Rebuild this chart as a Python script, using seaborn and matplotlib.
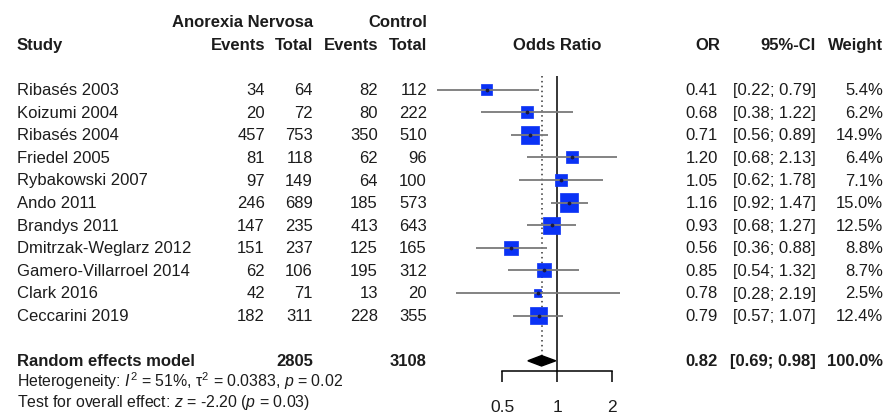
import matplotlib
matplotlib.use("Agg")
import matplotlib.pyplot as plt
import matplotlib.transforms as mtransforms
from matplotlib.ticker import NullLocator
import seaborn as sns

# data
studies = ["Ribasés 2003", "Koizumi 2004", "Ribasés 2004", "Friedel 2005",
           "Rybakowski 2007", "Ando 2011", "Brandys 2011", "Dmitrzak-Weglarz 2012",
           "Gamero-Villarroel 2014", "Clark 2016", "Ceccarini 2019"]
an_events = [34, 20, 457, 81, 97, 246, 147, 151, 62, 42, 182]
an_total = [64, 72, 753, 118, 149, 689, 235, 237, 106, 71, 311]
ctrl_events = [82, 80, 350, 62, 64, 185, 413, 125, 195, 13, 228]
ctrl_total = [112, 222, 510, 96, 100, 573, 643, 165, 312, 20, 355]
odds_ratio = [0.41, 0.68, 0.71, 1.20, 1.05, 1.16, 0.93, 0.56, 0.85, 0.78, 0.79]
ci_low = [0.22, 0.38, 0.56, 0.68, 0.62, 0.92, 0.68, 0.36, 0.54, 0.28, 0.57]
ci_high = [0.79, 1.22, 0.89, 2.13, 1.78, 1.47, 1.27, 0.88, 1.32, 2.19, 1.07]
weights = [5.4, 6.2, 14.9, 6.4, 7.1, 15.0, 12.5, 8.8, 8.7, 2.5, 12.4]
pooled_or, pooled_low, pooled_high = 0.82, 0.69, 0.98
pooled_an_total, pooled_ctrl_total = 2805, 3108
pooled_weight = 100.0
x_ticks = [0.5, 1, 2]

sns.set_style("white")
plt.rcParams["font.family"] = ["Liberation Sans", "DejaVu Sans"]
plt.rcParams["mathtext.fontset"] = "custom"
plt.rcParams["mathtext.rm"] = "Liberation Sans"
plt.rcParams["mathtext.it"] = "Liberation Sans:italic"

W, H = 887, 414
TXT = "#1c1c1c"
BLUE = "#0a32f5"

fig = plt.figure(figsize=(W / 100, H / 100), dpi=100)

# plot panel (pixels: x 420-640, y 77-372), log scale, 55px per doubling, 1 at 557
px_one, px_per_doubling = 557.3, 55.0
row0_px, row_h = 90.6, 22.6


def x_at(px):
    return 2 ** ((px - px_one) / px_per_doubling)


def row_at(px):
    return (px - row0_px) / row_h


ax = fig.add_axes([420 / W, 1 - 372 / H, 220 / W, (372 - 77) / H])
ax.set_xscale("log")
ax.set_xlim(x_at(420), x_at(640))
ax.set_ylim(row_at(372), row_at(77))

rows = list(range(len(studies)))
pooled_row = len(studies) + 1

ax.axvline(1, color="black", lw=1.1, zorder=1)
diamond_h = 0.23
ax.vlines(pooled_or, row_at(77), pooled_row - diamond_h, color="#333333",
          lw=1.1, linestyles=(0, (1, 2.2)), zorder=1)

# weight-sized squares (area proportional to weight)
area_per_pct = 11.5
sns.scatterplot(x=odds_ratio, y=rows, size=weights,
                sizes=(min(weights) * area_per_pct, max(weights) * area_per_pct),
                marker="s", color=BLUE, edgecolor=BLUE, linewidth=0.5,
                legend=False, ax=ax, zorder=2)
ax.hlines(rows, ci_low, ci_high, color="#7a7a7a", lw=1.3, zorder=3)
ax.scatter(odds_ratio, rows, s=3, color="#1a1a40", zorder=4)

ax.fill([pooled_low, pooled_or, pooled_high, pooled_or],
        [pooled_row, pooled_row - diamond_h, pooled_row, pooled_row + diamond_h],
        color="black", zorder=3)

for side in ["top", "left", "right"]:
    ax.spines[side].set_visible(False)
ax.spines["bottom"].set_bounds(min(x_ticks), max(x_ticks))
ax.spines["bottom"].set_color("black")
ax.spines["bottom"].set_linewidth(1.1)
ax.set_xticks(x_ticks)
ax.set_xticklabels([f"{t:g}" for t in x_ticks])
ax.xaxis.set_minor_locator(NullLocator())
ax.set_yticks([])
ax.tick_params(axis="x", direction="out", length=8, width=1.1, pad=12,
               labelsize=12.5, colors="black", labelcolor=TXT, bottom=True)
ax.set_xlabel("")
ax.set_ylabel("")

# text columns: x in figure pixels, y in plot rows
trans = mtransforms.blended_transform_factory(fig.transFigure, ax.transData)


def put(px, row, s, ha="right", bold=False, size=12):
    ax.text(px / W, row, s, transform=trans, ha=ha, va="center", fontsize=size,
            fontweight="bold" if bold else "normal", color=TXT, clip_on=False)


# headers
put(313, -3, "Anorexia Nervosa", bold=True)
put(427, -3, "Control", bold=True)
put(17, -2, "Study", ha="left", bold=True)
for px, s in [(265, "Events"), (313, "Total"), (378, "Events"), (427, "Total"),
              (720, "OR"), (816, "95%-CI"), (883, "Weight")]:
    put(px, -2, s, bold=True)
put(557.5, -2, "Odds Ratio", ha="center", bold=True)

for i, name in enumerate(studies):
    put(17, i, name, ha="left")
    put(265, i, str(an_events[i]))
    put(313, i, str(an_total[i]))
    put(378, i, str(ctrl_events[i]))
    put(427, i, str(ctrl_total[i]))
    put(718, i, f"{odds_ratio[i]:.2f}")
    put(816, i, f"[{ci_low[i]:.2f}; {ci_high[i]:.2f}]")
    put(883, i, f"{weights[i]:.1f}%")

put(17, pooled_row, "Random effects model", ha="left", bold=True)
put(313, pooled_row, str(pooled_an_total), bold=True)
put(427, pooled_row, str(pooled_ctrl_total), bold=True)
put(718, pooled_row, f"{pooled_or:.2f}", bold=True)
put(816, pooled_row, f"[{pooled_low:.2f}; {pooled_high:.2f}]", bold=True)
put(883, pooled_row, f"{pooled_weight:.1f}%", bold=True)

put(17, pooled_row + 0.85,
    r"Heterogeneity: $I^2$ = 51%, τ$^2$ = 0.0383, $p$ = 0.02", ha="left", size=11.4)
put(17, pooled_row + 1.82,
    r"Test for overall effect: $z$ = -2.20 ($p$ = 0.03)", ha="left", size=11.4)

fig.savefig("out.png", dpi=100)
